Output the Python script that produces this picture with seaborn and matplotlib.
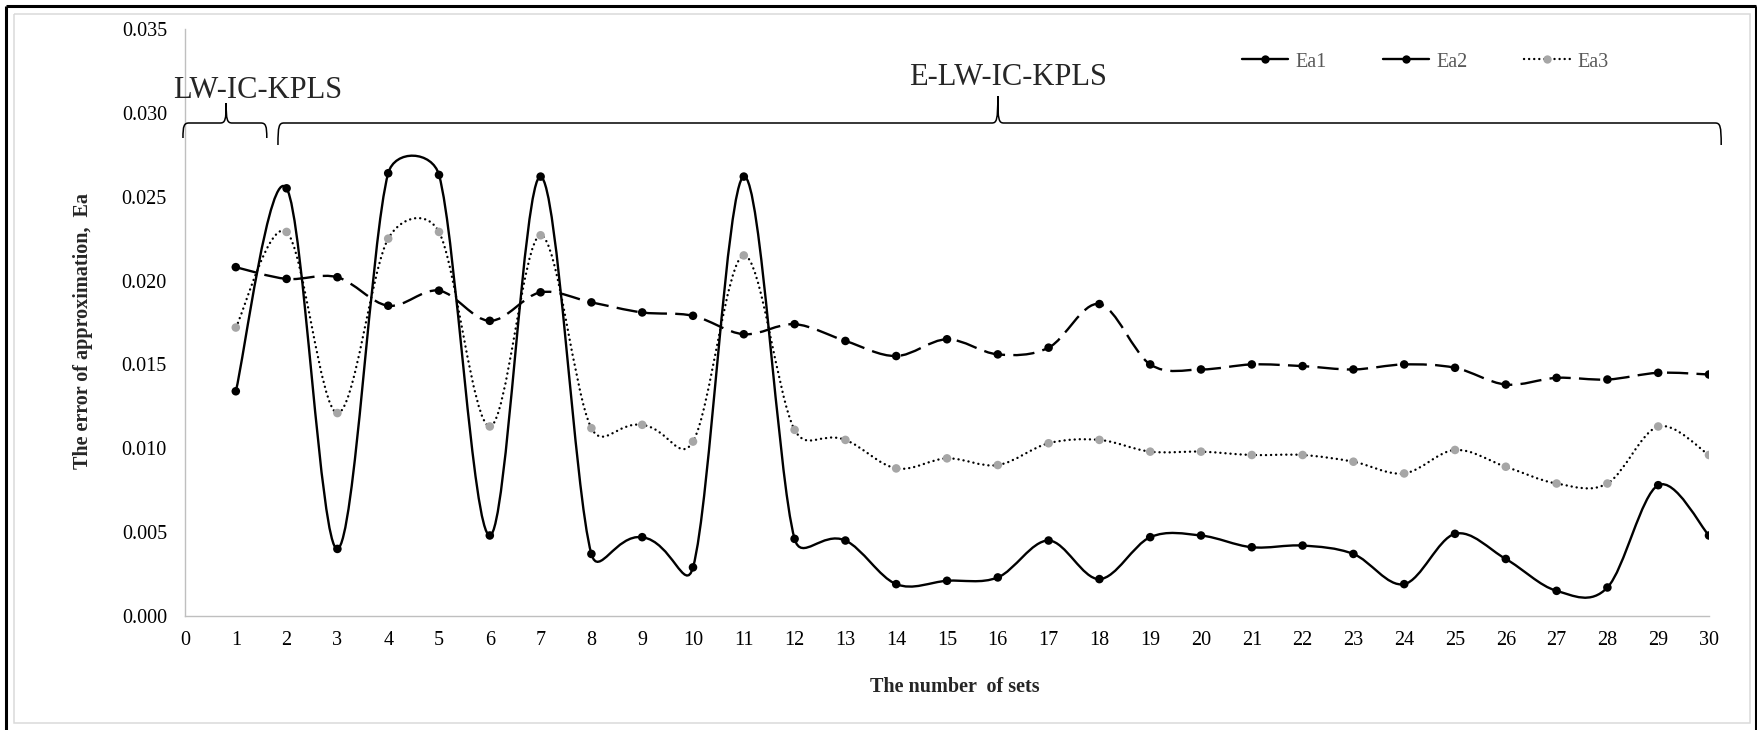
import numpy as np
import pandas as pd
import seaborn as sns
import matplotlib
matplotlib.use("Agg")
import matplotlib.pyplot as plt
from matplotlib.path import Path
from matplotlib.patches import PathPatch
from matplotlib.lines import Line2D
from matplotlib.transforms import IdentityTransform

# ---------------- data ----------------
sets = list(range(1, 31))
ea1 = [0.0134, 0.0255, 0.0040, 0.0264, 0.0263, 0.0048, 0.0262, 0.0037, 0.0047, 0.0029,
       0.0262, 0.0046, 0.0045, 0.0019, 0.0021, 0.0023, 0.0045, 0.0022, 0.0047, 0.0048,
       0.0041, 0.0042, 0.0037, 0.0019, 0.0049, 0.0034, 0.0015, 0.0017, 0.0078, 0.0048]
ea2 = [0.0208, 0.0201, 0.0202, 0.0185, 0.0194, 0.0176, 0.0193, 0.0187, 0.0181, 0.0179,
       0.0168, 0.0174, 0.0164, 0.0155, 0.0165, 0.0156, 0.0160, 0.0186, 0.0150, 0.0147,
       0.0150, 0.0149, 0.0147, 0.0150, 0.0148, 0.0138, 0.0142, 0.0141, 0.0145, 0.0144]
ea3 = [0.0172, 0.0229, 0.0121, 0.0225, 0.0229, 0.0113, 0.0227, 0.0112, 0.0114, 0.0104,
       0.0215, 0.0111, 0.0105, 0.0088, 0.0094, 0.0090, 0.0103, 0.0105, 0.0098, 0.0098,
       0.0096, 0.0096, 0.0092, 0.0085, 0.0099, 0.0089, 0.0079, 0.0079, 0.0113, 0.0096]
series_names = ["Ea1", "Ea2", "Ea3"]
x_ticks = list(range(0, 31))
y_ticks = [0.000, 0.005, 0.010, 0.015, 0.020, 0.025, 0.030, 0.035]
x_label = "The number  of sets"
y_label = "The error of approximation,  Ea"
group_labels = ["LW-IC-KPLS", "E-LW-IC-KPLS"]

df = pd.DataFrame({
    "set": sets * 3,
    "value": ea1 + ea2 + ea3,
    "series": sum([[n] * len(sets) for n in series_names], []),
})

# ---------------- style ----------------
sns.set_theme(style="white")
plt.rcParams["font.family"] = ["Liberation Serif", "DejaVu Serif"]
plt.rcParams["axes.unicode_minus"] = False

W, H = 1758, 730
fig = plt.figure(figsize=(W / 100, H / 100), dpi=100)
fig.patch.set_facecolor("white")

ax_left, ax_right, ax_top, ax_bottom = 185, 1709, 29, 616
ax = fig.add_axes([ax_left / W, 1 - ax_bottom / H, (ax_right - ax_left) / W, (ax_bottom - ax_top) / H])
ax.set_xlim(0, 30)
ax.set_ylim(0, 0.035)

# markers via seaborn
mk_colors = {"Ea1": "black", "Ea2": "black", "Ea3": "#A6A6A6"}
sns.scatterplot(data=df, x="set", y="value", hue="series", palette=mk_colors,
                s=38, edgecolor="none", legend=False, ax=ax, zorder=4)

# Excel-like smoothed curves (Bezier through the data points)
def excel_smooth_path(xs, ys):
    pts = ax.transData.transform(np.column_stack([xs, ys]))
    n = len(pts)
    verts = [pts[0]]
    codes = [Path.MOVETO]
    f = 1.0 / 6.0
    for i in range(n - 1):
        p0 = pts[i - 1] if i > 0 else pts[i]
        p1 = pts[i]
        p2 = pts[i + 1]
        p3 = pts[i + 2] if i + 2 < n else pts[i + 1]
        d02 = np.hypot(*(p2 - p0))
        d12 = np.hypot(*(p2 - p1))
        d13 = np.hypot(*(p3 - p1))
        b1 = d02 * f < d12 / 2
        b2 = d13 * f < d12 / 2
        if b1 and b2:
            f1 = f2 = f
        elif b1 and not b2:
            f2 = d12 / (2 * d13)
            f1 = f2 * d13 / d02 if d02 > 0 else 0
        elif b2 and not b1:
            f1 = d12 / (2 * d02)
            f2 = f1 * d02 / d13 if d13 > 0 else 0
        else:
            f1 = d12 / (2 * d02)
            f2 = d12 / (2 * d13)
        c1 = p1 + (p2 - p0) * f1
        c2 = p2 - (p3 - p1) * f2
        verts += [c1, c2, p2]
        codes += [Path.CURVE4] * 3
    verts = ax.transData.inverted().transform(np.array(verts))
    return Path(verts, codes)

lw = 1.7
p1 = PathPatch(excel_smooth_path(sets, ea1), fill=False, edgecolor="black", lw=lw,
               transform=ax.transData, zorder=3, capstyle="butt", joinstyle="round")
p2 = PathPatch(excel_smooth_path(sets, ea2), fill=False, edgecolor="black", lw=lw,
               linestyle=(0, (9.0, 3.5)), transform=ax.transData, zorder=3, capstyle="butt")
p3 = PathPatch(excel_smooth_path(sets, ea3), fill=False, edgecolor="black", lw=lw,
               linestyle=(0, (0.05, 2.1)), transform=ax.transData, zorder=3, capstyle="round")
for p in (p1, p2, p3):
    ax.add_patch(p)

# axes styling
ax.set_xticks(x_ticks)
ax.set_yticks(y_ticks)
ax.set_xticklabels([str(t) for t in x_ticks])
ax.set_yticklabels([f"{t:.3f}" for t in y_ticks])
ax.tick_params(axis="both", length=0, labelsize=14.5, colors="black")
ax.tick_params(axis="x", pad=11)
ax.tick_params(axis="y", pad=13)
for s in ("top", "right"):
    ax.spines[s].set_visible(False)
for s in ("left", "bottom"):
    ax.spines[s].set_color("#BFBFBF")
    ax.spines[s].set_linewidth(1.0)
ax.grid(False)
ax.set_xlabel(x_label, fontsize=14.5, fontweight="bold")
ax.set_ylabel(y_label, fontsize=14.5, fontweight="bold")
ax.xaxis.set_label_coords((955 - ax_left) / (ax_right - ax_left), -(677 - ax_bottom) / (ax_bottom - ax_top))
ax.yaxis.set_label_coords(-(ax_left - 93) / (ax_right - ax_left), 0.485)

# legend
handles = [
    Line2D([], [], color="black", lw=lw, marker="o", markersize=6, markerfacecolor="black", markeredgecolor="none"),
    Line2D([], [], color="black", lw=lw, marker="o", markersize=6, markerfacecolor="black", markeredgecolor="none"),
    Line2D([], [], color="black", lw=lw, linestyle=(0, (0.05, 2.1)), dash_capstyle="round",
           marker="o", markersize=6, markerfacecolor="#A6A6A6", markeredgecolor="none"),
]
leg = fig.legend(handles, series_names, loc="center", ncol=3, frameon=False,
                 bbox_to_anchor=(1425 / W, 1 - 62 / H), fontsize=14.5,
                 handlelength=2.3, handletextpad=0.35, columnspacing=2.8)
for t in leg.get_texts():
    t.set_color("#595959")

# braces (annotation shapes, positioned in data coordinates)
def brace(x0, x1, xtip, y, drop_px, tip_px):
    a = ax.transData.transform([[x0, y], [x1, y], [xtip, y]])
    (X0, Y), (X1, _), (XT, _) = a
    r = 6
    v = [
        (X0, Y - drop_px), (X0, Y - 3), (X0 + 1, Y), (X0 + r, Y),
        (XT - r, Y),
        (XT - 1, Y), (XT, Y + 3), (XT, Y + tip_px),
        (XT, Y + 3), (XT + 1, Y), (XT + r, Y),
        (X1 - r, Y),
        (X1 - 1, Y), (X1, Y - 3), (X1, Y - drop_px),
    ]
    c = [Path.MOVETO, Path.CURVE4, Path.CURVE4, Path.CURVE4,
         Path.LINETO,
         Path.CURVE4, Path.CURVE4, Path.CURVE4,
         Path.CURVE4, Path.CURVE4, Path.CURVE4,
         Path.LINETO,
         Path.CURVE4, Path.CURVE4, Path.CURVE4]
    pp = PathPatch(Path(v, c), fill=False, edgecolor="black", lw=1.1,
                   transform=IdentityTransform(), clip_on=False, zorder=5)
    fig.add_artist(pp)

y_brace = (ax_bottom - 123) / ((ax_bottom - ax_top) / 0.035)
brace(-0.04, 1.61, 0.81, y_brace, 15, 20)
brace(1.83, 30.24, 16.0, y_brace, 22, 27)

ax.text(1.44, 0.03089, group_labels[0], fontsize=22, ha="center", va="baseline", clip_on=False)
ax.text(16.2, 0.03166, group_labels[1], fontsize=22, ha="center", va="baseline", clip_on=False)

# outer frames
def frame(l, t, r, b, color, lwpx):
    v = [(l, H - t), (l, H - b), (r, H - b), (r, H - t), (l, H - t)]
    fig.add_artist(PathPatch(Path(v, closed=False), fill=False, edgecolor=color,
                             lw=lwpx * 0.72, transform=IdentityTransform(), clip_on=False))

frame(14, 14, 1750, 723, "#D9D9D9", 1.5)
# black border: top, left, right
for seg in ([(6, 6), (1756, 6)], [(6, 6), (6, 731)], [(1756, 6), (1756, 731)]):
    v = [(x, H - y) for x, y in seg]
    fig.add_artist(PathPatch(Path(v), fill=False, edgecolor="black", lw=2.2,
                             transform=IdentityTransform(), clip_on=False))

fig.savefig("out.png", dpi=100)
